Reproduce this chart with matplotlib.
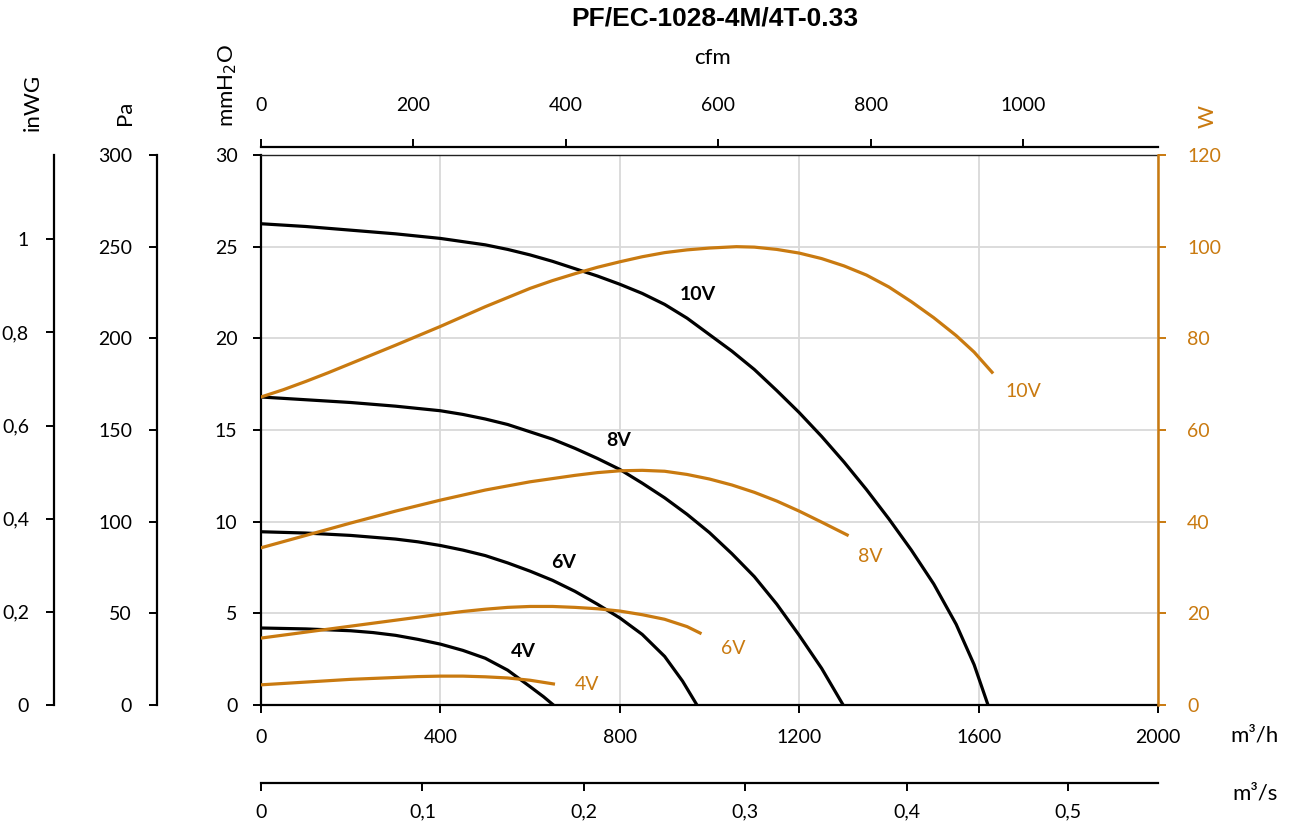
import matplotlib
matplotlib.use("Agg")
import matplotlib.pyplot as plt
from matplotlib.ticker import FixedLocator, FuncFormatter

plt.rcParams['font.family'] = ['Lato', 'DejaVu Sans']

# ---------------- data ----------------
title = "PF/EC-1028-4M/4T-0.33"

q10_p = [0, 100, 200, 300, 400, 500, 550, 600, 650, 700, 750, 800, 850, 900, 950, 1000, 1050, 1100,
         1150, 1200, 1250, 1300, 1350, 1400, 1450, 1500, 1550, 1590, 1621]
p10 = [26.25, 26.1, 25.9, 25.7, 25.45, 25.1, 24.85, 24.55, 24.2, 23.8, 23.4, 22.95, 22.45, 21.85, 21.1,
       20.2, 19.3, 18.3, 17.15, 15.95, 14.65, 13.25, 11.75, 10.15, 8.45, 6.6, 4.4, 2.2, 0.0]
q10_w = [0, 50, 100, 150, 200, 300, 400, 500, 600, 650, 700, 750, 800, 850, 900, 950, 1000, 1060, 1100,
         1150, 1200, 1250, 1300, 1350, 1400, 1450, 1500, 1550, 1590, 1630]
w10 = [67.2, 68.8, 70.6, 72.5, 74.5, 78.5, 82.6, 86.9, 90.9, 92.6, 94.1, 95.5, 96.7, 97.8, 98.7, 99.3,
       99.7, 100.0, 99.9, 99.4, 98.6, 97.4, 95.8, 93.8, 91.2, 88.0, 84.5, 80.6, 77.0, 72.6]

q8_p = [0, 100, 200, 300, 400, 450, 500, 550, 600, 650, 700, 750, 800, 850, 900, 950, 1000, 1050,
        1100, 1150, 1200, 1250, 1298]
p8 = [16.8, 16.65, 16.5, 16.3, 16.05, 15.85, 15.6, 15.3, 14.9, 14.5, 14.0, 13.45, 12.85, 12.1, 11.3,
      10.4, 9.4, 8.25, 7.0, 5.5, 3.8, 2.0, 0.0]
q8_w = [0, 100, 200, 300, 400, 500, 600, 700, 750, 800, 850, 900, 950, 1000, 1050, 1100, 1150, 1200,
        1250, 1307]
w8 = [34.3, 37.0, 39.7, 42.3, 44.7, 46.9, 48.7, 50.1, 50.7, 51.1, 51.2, 51.0, 50.3, 49.3, 48.0, 46.4,
      44.5, 42.3, 39.9, 37.1]

q6_p = [0, 100, 200, 300, 350, 400, 450, 500, 550, 600, 650, 700, 750, 800, 850, 900, 940, 972]
p6 = [9.45, 9.38, 9.25, 9.05, 8.9, 8.7, 8.45, 8.15, 7.75, 7.3, 6.8, 6.2, 5.5, 4.75, 3.85, 2.65, 1.3, 0.0]
q6_w = [0, 100, 200, 300, 400, 450, 500, 550, 600, 650, 700, 750, 800, 850, 900, 950, 979]
w6 = [14.6, 15.9, 17.2, 18.5, 19.8, 20.4, 20.9, 21.3, 21.5, 21.5, 21.3, 21.0, 20.5, 19.7, 18.7, 17.1, 15.7]

q4_p = [0, 100, 200, 250, 300, 350, 400, 450, 500, 550, 600, 630, 652]
p4 = [4.2, 4.15, 4.05, 3.95, 3.8, 3.58, 3.32, 2.98, 2.55, 1.9, 1.0, 0.45, 0.0]
q4_w = [0, 100, 200, 300, 350, 400, 450, 500, 550, 600, 652]
w4 = [4.4, 5.0, 5.6, 6.0, 6.2, 6.3, 6.3, 6.15, 5.9, 5.4, 4.6]

curve_labels = ["10V", "8V", "6V", "4V"]
p_label_pos = [(975, 22.4), (797, 14.4), (675, 7.8), (585, 2.9)]
w_label_pos = [(1699, 68.3), (1358, 32.3), (1052, 12.4), (727, 4.4)]

x_ticks_m3h = [0, 400, 800, 1200, 1600, 2000]
y_ticks_mm = [0, 5, 10, 15, 20, 25, 30]
y_ticks_w = [0, 20, 40, 60, 80, 100, 120]
y_ticks_pa = [0, 50, 100, 150, 200, 250, 300]
y_ticks_inwg = [0, 0.2, 0.4, 0.6, 0.8, 1.0]
x_ticks_cfm = [0, 200, 400, 600, 800, 1000]
x_ticks_m3s = [0, 0.1, 0.2, 0.3, 0.4, 0.5]

ORANGE = '#C97A10'
GRID = '#D9D9D9'
W_PX, H_PX = 1296, 827
TICK_FS = 14
LAB_FS = 16


def fx(px):
    return px / W_PX


def fy(py):
    return 1 - py / H_PX


def comma(v, pos=None):
    return ('%g' % v).replace('.', ',')


fig = plt.figure(figsize=(12.96, 8.27), dpi=100)

L, R, T, B = 261, 1158, 155, 705
ax = fig.add_axes([fx(L), fy(B), fx(R - L), fy(T) - fy(B)])
ax.set_xlim(0, 2000)
ax.set_ylim(0, 30)
ax.xaxis.set_major_locator(FixedLocator(x_ticks_m3h))
ax.yaxis.set_major_locator(FixedLocator(y_ticks_mm))
ax.grid(True, color=GRID, linewidth=1.3)
ax.set_axisbelow(True)
for s in ['left', 'bottom']:
    ax.spines[s].set_linewidth(1.6)
    ax.spines[s].set_color('black')
ax.spines['top'].set_linewidth(1.0)
ax.spines['top'].set_color('#222222')
ax.spines['right'].set_visible(False)
ax.tick_params(axis='both', labelsize=TICK_FS, length=6, width=1.4, direction='out')
ax.tick_params(axis='y', pad=11)
ax.tick_params(axis='x', pad=11)
ax.xaxis.set_major_formatter(FuncFormatter(lambda v, p: '%d' % v))

# pressure curves
for q, p in [(q10_p, p10), (q8_p, p8), (q6_p, p6), (q4_p, p4)]:
    ax.plot(q, p, color='black', lw=2.3, solid_joinstyle='round', zorder=4)

for lab, (xq, yp) in zip(curve_labels, p_label_pos):
    ax.text(xq, yp, lab, fontsize=14, fontweight='bold', color='black', ha='center', va='center', zorder=6)

# power axis
axw = ax.twinx()
axw.set_ylim(0, 120)
axw.yaxis.set_major_locator(FixedLocator(y_ticks_w))
for s in ['left', 'top', 'bottom']:
    axw.spines[s].set_visible(False)
axw.spines['right'].set_color(ORANGE)
axw.spines['right'].set_linewidth(1.8)
axw.tick_params(axis='y', colors=ORANGE, labelsize=TICK_FS, length=6, width=1.4, pad=15)
for q, w in [(q10_w, w10), (q8_w, w8), (q6_w, w6), (q4_w, w4)]:
    axw.plot(q, w, color=ORANGE, lw=2.3, solid_joinstyle='round', zorder=4)
for lab, (xq, yw) in zip(curve_labels, w_label_pos):
    axw.text(xq, yw, lab, fontsize=14, color=ORANGE, ha='center', va='center')

# top cfm axis
CY = 147.5
axc = fig.add_axes([fx(L), fy(CY), fx(R - L), 0.0001])
axc.set_xlim(0, 2000 / 1.699)
axc.patch.set_visible(False)
for s in ['left', 'right', 'bottom']:
    axc.spines[s].set_visible(False)
axc.spines['top'].set_linewidth(1.6)
axc.yaxis.set_visible(False)
axc.xaxis.tick_top()
axc.xaxis.set_major_locator(FixedLocator(x_ticks_cfm))
axc.tick_params(axis='x', labelsize=TICK_FS, length=6, width=1.4, direction='out', pad=18)
axc.xaxis.set_major_formatter(FuncFormatter(lambda v, p: '%d' % v))

# bottom m3/s axis
SY = 783
axs = fig.add_axes([fx(L), fy(SY), fx(R - L), 0.0001])
axs.set_xlim(0, 2000 / 3600)
axs.patch.set_visible(False)
for s in ['left', 'right', 'top']:
    axs.spines[s].set_visible(False)
axs.spines['bottom'].set_linewidth(1.6)
axs.yaxis.set_visible(False)
axs.xaxis.set_major_locator(FixedLocator(x_ticks_m3s))
axs.xaxis.set_major_formatter(FuncFormatter(comma))
axs.tick_params(axis='x', labelsize=TICK_FS, length=6, width=1.4, direction='out', pad=9)

# Pa axis
PX = 157
axp = fig.add_axes([fx(PX), fy(B), 0.0001, fy(T) - fy(B)])
axp.set_ylim(0, 300)
axp.patch.set_visible(False)
for s in ['right', 'top', 'bottom']:
    axp.spines[s].set_visible(False)
axp.spines['left'].set_linewidth(1.6)
axp.xaxis.set_visible(False)
axp.yaxis.set_major_locator(FixedLocator(y_ticks_pa))
axp.tick_params(axis='y', labelsize=TICK_FS, length=6, width=1.4, direction='out', pad=12)

# inWG axis
IX = 54
axi = fig.add_axes([fx(IX), fy(B), 0.0001, fy(T) - fy(B)])
axi.set_ylim(0, 30 / 25.4)
axi.patch.set_visible(False)
for s in ['right', 'top', 'bottom']:
    axi.spines[s].set_visible(False)
axi.spines['left'].set_linewidth(1.6)
axi.xaxis.set_visible(False)
axi.yaxis.set_major_locator(FixedLocator(y_ticks_inwg))
axi.yaxis.set_major_formatter(FuncFormatter(comma))
axi.tick_params(axis='y', labelsize=TICK_FS, length=6, width=1.4, direction='out', pad=12)

# axis titles
fig.text(fx(715), fy(18), title, fontsize=19, fontweight='bold', family=['Liberation Sans', 'DejaVu Sans'],
         ha='center', va='center')
fig.text(fx(713), fy(58), 'cfm', fontsize=LAB_FS, ha='center', va='center')
fig.text(fx(33), fy(102), 'inWG', fontsize=LAB_FS, rotation=90, ha='center', va='center')
fig.text(fx(125), fy(113), 'Pa', fontsize=LAB_FS, rotation=90, ha='center', va='center')
fig.text(fx(228), fy(85), 'mmH$_2$O', fontsize=LAB_FS, rotation=90, ha='center', va='center')
fig.text(fx(1208), fy(116), 'W', fontsize=LAB_FS, rotation=90, ha='center', va='center', color=ORANGE)
fig.text(fx(1255), fy(736), 'm³/h', fontsize=LAB_FS, ha='center', va='center')
fig.text(fx(1255), fy(793), 'm³/s', fontsize=LAB_FS, ha='center', va='center')

fig.savefig('out.png', dpi=100)
